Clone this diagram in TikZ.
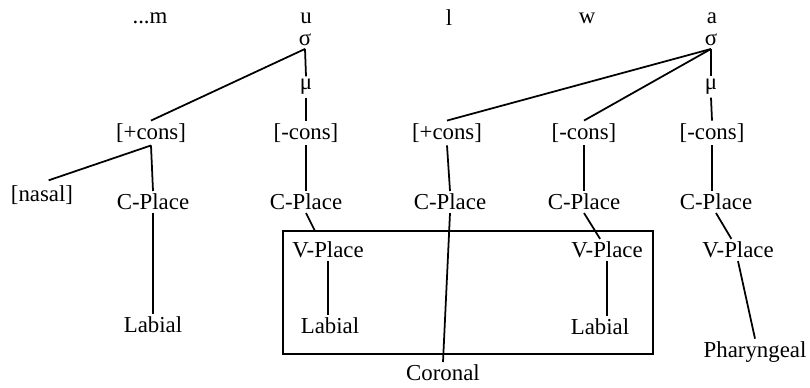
\documentclass[tikz,border=0pt]{standalone}
\usepackage{fontspec}
\setmainfont{Liberation Serif}
\begin{document}
\begin{tikzpicture}[x=0.02cm,y=-0.02cm,
 seg/.style={font=\fontsize{13}{15}\selectfont,inner sep=1.5pt},
 assoc/.style={line width=1pt}]
 \useasboundingbox (0,0) rectangle (810,387);
 \node[seg] (m) at (150,18) {...m};
 \node[seg] (u) at (306,18) {u};
 \node[seg] (l) at (449,18) {l};
 \node[seg] (w) at (587,18) {w};
 \node[seg] (a) at (712,18) {a};
 \node[seg] (su) at (305,40) {σ};
 \node[seg] (sa) at (711,40) {σ};
 \node[seg] (mu) at (306,87) {μ};
 \node[seg] (ma) at (711,87) {μ};
 \node[seg] (cm) at (151,133) {[+cons]};
 \node[seg] (cu) at (306,133) {[-cons]};
 \node[seg] (cl) at (447,133) {[+cons]};
 \node[seg] (cw) at (584,133) {[-cons]};
 \node[seg] (ca) at (712,133) {[-cons]};
 \node[seg] (nas) at (42,195) {[nasal]};
 \node[seg] (pm) at (153,202) {C-Place};
 \node[seg] (pu) at (306,202) {C-Place};
 \node[seg] (pl) at (450,202) {C-Place};
 \node[seg] (pw) at (584,202) {C-Place};
 \node[seg] (pa) at (716,202) {C-Place};
 \node[seg] (vu) at (328,250) {V-Place};
 \node[seg] (vw) at (607,250) {V-Place};
 \node[seg] (va) at (738,250) {V-Place};
 \node[seg] (lm) at (153,325) {Labial};
 \node[seg] (lu) at (330,326) {Labial};
 \node[seg] (lw) at (600,327) {Labial};
 \node[seg] (cor) at (443,373) {Coronal};
 \node[seg] (ph) at (755,352) {Pharyngeal};
 \coordinate (bnw) at (283,231);
 \coordinate (bse) at (653,354);
 \coordinate (bhook) at (315,231);
 \draw[line width=1.1pt] (bnw) rectangle (bse);
 \draw[assoc] (su.south) -- (mu.north);
 \draw[assoc] (mu.south) -- (cu.north);
 \draw[assoc] (su.south) -- (cm.north);
 \draw[assoc] (sa.south) -- (ma.north);
 \draw[assoc] (ma.south) -- (ca.north);
 \draw[assoc] (sa.south) -- (cl.north);
 \draw[assoc] (sa.south) -- (cw.north);
 \draw[assoc,shorten >=4pt] (cm.south) -- (nas.north);
 \draw[assoc] (cm.south) -- (pm.north);
 \draw[assoc] (cu.south) -- (pu.north);
 \draw[assoc] (cl.south) -- (pl.north);
 \draw[assoc] (cw.south) -- (pw.north);
 \draw[assoc] (ca.south) -- (ca.south |- pa.north);
 \draw[assoc] (pm.south) -- (lm.north);
 \draw[assoc] (pu.south) -- (bhook);
 \draw[assoc] (vu.south) -- (vu.south |- lu.north);
 \draw[assoc] (pl.south) -- (cor.north);
 \draw[assoc] (pw.south) -- (vw);
 \draw[assoc] (vw.south) -- (vw.south |- lw.north);
 \draw[assoc] (pa.south) -- (va);
 \draw[assoc] (va.south) -- (ph.north);
\end{tikzpicture}
\end{document}
